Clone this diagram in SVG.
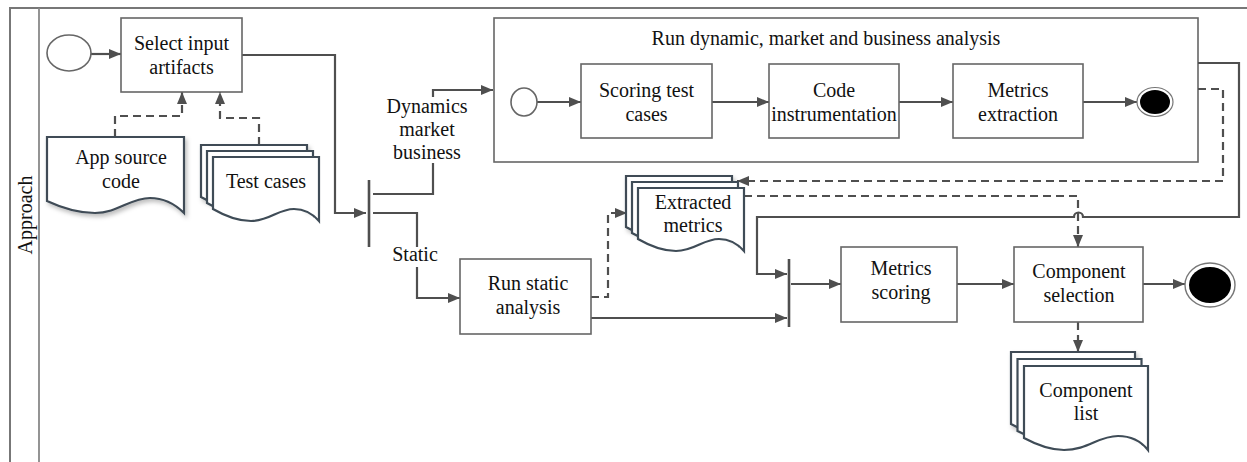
<svg xmlns="http://www.w3.org/2000/svg" width="1247" height="462" viewBox="0 0 1247 462">
  <style>
    .t { font-family: "Liberation Serif", "Times New Roman", serif; font-size: 20px; fill: #111; text-anchor: middle; }
    .box { fill: #fff; stroke: #666; stroke-width: 1.6; }
    .doc { fill: #fff; stroke: #3f4c57; stroke-width: 2.2; stroke-linejoin: miter; }
    .lane { fill: none; stroke: #888; stroke-width: 1.8; }
    .flow { fill: none; stroke: #4f4f4f; stroke-width: 2.2; marker-end: url(#arr); }
    .dash { fill: none; stroke: #4f4f4f; stroke-width: 2.2; stroke-dasharray: 8 5; marker-end: url(#arr); }
    .bar { stroke: #4f4f4f; stroke-width: 2.6; }
    .ev { fill: #fff; stroke: #666; stroke-width: 1.6; }
  </style>
  <defs>
    <marker id="arr" viewBox="0 0 12 10" refX="12" refY="5" markerWidth="12" markerHeight="10" markerUnits="userSpaceOnUse" orient="auto">
      <path d="M0,0 L12,5 L0,10 Z" fill="#4f4f4f"/>
    </marker>
    <filter id="sh" x="-10%" y="-10%" width="130%" height="140%">
      <feDropShadow dx="2" dy="3" stdDeviation="2" flood-color="#000" flood-opacity="0.25"/>
    </filter>
  </defs>
  <rect width="1247" height="462" fill="#fff"/>

  <!-- pool / lane frame -->
  <g id="lane">
    <path class="lane" d="M10,462 V8 H1247" style="stroke:#777;stroke-width:2"/>
    <path class="lane" d="M39,8 V462"/>
    <text class="t" transform="translate(32,215) rotate(-90)">Approach</text>
  </g>

  <g id="dynamic-subprocess">
    <rect class="box" x="494" y="18" width="704" height="144"/>
    <text class="t" x="826" y="45">Run dynamic, market and business analysis</text>
  </g>

  <!-- connectors -->
  <g id="connectors">
    <path class="flow" d="M91,54 H121"/>
    <path class="dash" d="M115,137 V116 H182 V92"/>
    <path class="dash" d="M259,145 V118 H220 V92"/>
    <path class="flow" d="M242,55 H335 V213 H366"/>
    <path class="flow" d="M373,194 H433 V90 H493"/>
    <path class="flow" d="M373,213 H417 V298 H460"/>
    <path class="flow" d="M537,102 H581"/>
    <path class="flow" d="M712,102 H769"/>
    <path class="flow" d="M899,102 H953"/>
    <path class="flow" d="M1083,102 H1137"/>
    <path class="dash" d="M591,297 H608 V213 H627"/>
    <path class="flow" d="M591,318 H787"/>
    <path class="flow" d="M1198,63 H1239 V217 H1083 A4.5,4.5 0 0 0 1074,217 H757 V274 H787"/>
    <path class="dash" d="M1198,89 H1223 V181 H737"/>
    <path class="dash" d="M744,196 H1078 V247"/>
    <path class="flow" d="M791,284 H841"/>
    <path class="flow" d="M957,284 H1014"/>
    <path class="flow" d="M1143,284 H1185"/>
    <path class="dash" d="M1078,322 V352"/>
    <line class="bar" x1="369" y1="180" x2="369" y2="247"/>
    <line class="bar" x1="789" y1="259" x2="789" y2="327"/>
    <g id="labels">
      <rect x="385" y="97" width="86" height="66" fill="#fff"/>
      <text class="t" x="427" y="113">Dynamics</text>
      <text class="t" x="427" y="136">market</text>
      <text class="t" x="427" y="159">business</text>
      <rect x="390" y="247" width="52" height="20" fill="#fff"/>
      <text class="t" x="415" y="261">Static</text>
    </g>
  </g>

  <g id="start">
    <ellipse class="ev" cx="69" cy="53" rx="22" ry="18"/>
  </g>

  <g id="select-input">
    <rect class="box" x="121" y="18" width="121" height="74"/>
    <text class="t" x="181.5" y="50">Select input</text>
    <text class="t" x="181.5" y="74">artifacts</text>
  </g>

  <g id="app-source-code">
    <path class="doc" filter="url(#sh)" d="M47,137 H184 V213 C174,203 164,198 150,198 C130,198 118,213 95,213 C78,213 62,208 47,201 Z"/>
    <text class="t" x="121" y="164">App source</text>
    <text class="t" x="121" y="188">code</text>
  </g>

  <g id="test-cases">
    <path class="doc" filter="url(#sh)" d="M201,145 H307 V209 C300,201 292,197 282,197 C266,197 258,209 239,209 C226,209 213,204 201,197 Z"/>
    <path class="doc" d="M207,151 H313 V215 C306,207 298,203 288,203 C272,203 264,215 245,215 C232,215 219,210 207,203 Z"/>
    <path class="doc" d="M213,157 H319 V221 C312,213 304,209 294,209 C278,209 270,221 251,221 C238,221 225,216 213,209 Z"/>
    <text class="t" x="266" y="188">Test cases</text>
  </g>

  <g id="sub-start">
    <ellipse class="ev" cx="524" cy="102" rx="13" ry="14"/>
  </g>

  <g id="scoring-test-cases">
    <rect class="box" x="581" y="64" width="131" height="74"/>
    <text class="t" x="646.5" y="97">Scoring test</text>
    <text class="t" x="646.5" y="121">cases</text>
  </g>

  <g id="code-instrumentation">
    <rect class="box" x="769" y="64" width="130" height="74"/>
    <text class="t" x="834" y="97">Code</text>
    <text class="t" x="834" y="121">instrumentation</text>
  </g>

  <g id="metrics-extraction">
    <rect class="box" x="953" y="64" width="130" height="74"/>
    <text class="t" x="1018" y="97">Metrics</text>
    <text class="t" x="1018" y="121">extraction</text>
  </g>

  <g id="sub-end">
    <ellipse cx="1155" cy="102" rx="18" ry="14.5" fill="#fff" stroke="#777" stroke-width="1.2"/>
    <ellipse cx="1155" cy="102" rx="15" ry="12" fill="#000"/>
  </g>

  <g id="extracted-metrics">
    <path class="doc" filter="url(#sh)" d="M626,176 H732 V239 C725,231 717,227 707,227 C691,227 683,239 664,239 C651,239 638,234 626,227 Z"/>
    <path class="doc" d="M632,182 H738 V245 C731,237 723,233 713,233 C697,233 689,245 670,245 C657,245 644,240 632,233 Z"/>
    <path class="doc" d="M638,188 H744 V251 C737,243 729,239 719,239 C703,239 695,251 676,251 C663,251 650,246 638,239 Z"/>
    <text class="t" x="693" y="209">Extracted</text>
    <text class="t" x="693" y="232">metrics</text>
  </g>

  <g id="run-static-analysis">
    <rect class="box" x="460" y="259" width="131" height="75"/>
    <text class="t" x="528" y="290">Run static</text>
    <text class="t" x="528" y="314">analysis</text>
  </g>

  <g id="metrics-scoring">
    <rect class="box" x="841" y="247" width="116" height="75"/>
    <text class="t" x="901" y="275">Metrics</text>
    <text class="t" x="901" y="299">scoring</text>
  </g>

  <g id="component-selection">
    <rect class="box" x="1014" y="247" width="129" height="75"/>
    <text class="t" x="1079" y="278">Component</text>
    <text class="t" x="1079" y="302">selection</text>
  </g>

  <g id="end">
    <ellipse cx="1210" cy="285" rx="25" ry="22" fill="#fff" stroke="#777" stroke-width="1.4"/>
    <ellipse cx="1210" cy="285" rx="21" ry="18" fill="#000"/>
  </g>

  <g id="component-list">
    <path class="doc" filter="url(#sh)" d="M1011,352 H1135 V436 C1127,426 1117,422 1105,422 C1085,422 1075,436 1051,436 C1036,436 1024,431 1011,424 Z"/>
    <path class="doc" d="M1017.5,359 H1141.5 V443 C1133.5,433 1123.5,429 1111.5,429 C1091.5,429 1081.5,443 1057.5,443 C1042.5,443 1030.5,438 1017.5,431 Z"/>
    <path class="doc" d="M1024,366 H1148 V450 C1140,440 1130,436 1118,436 C1098,436 1088,450 1064,450 C1049,450 1037,445 1024,438 Z"/>
    <text class="t" x="1086" y="397">Component</text>
    <text class="t" x="1086" y="420">list</text>
  </g>
</svg>
